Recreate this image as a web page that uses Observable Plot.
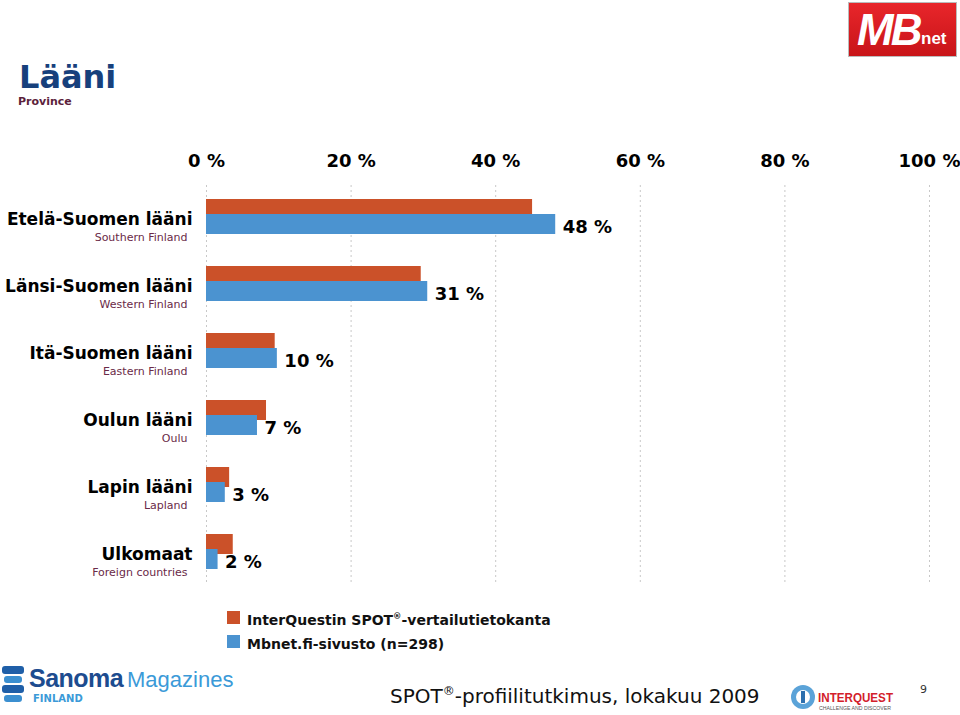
<!DOCTYPE html>
<html>
<head>
<meta charset="utf-8">
<script src="https://cdn.jsdelivr.net/npm/d3@7"></script>
<script src="https://cdn.jsdelivr.net/npm/@observablehq/plot@0.6"></script>
<style>
  body { margin: 0; background: #fff; font-family: "DejaVu Sans", Verdana, sans-serif; }
  #page { position: relative; width: 960px; height: 715px; overflow: hidden; }
  .abs { position: absolute; white-space: nowrap; }
  #title { left: 19px; top: 57px; font-size: 32px; font-weight: bold; color: #17407c; line-height: 40px; }
  #subtitle { left: 18px; top: 94px; font-size: 11px; font-weight: bold; color: #5c1f3c; line-height: 16px; }
  #chart { position: absolute; left: 0; top: 140px; }
  .sw { position: absolute; width: 13px; height: 13px; }
  .lg { font-size: 14px; font-weight: bold; color: #111; line-height: 18px; }
  sup { font-size: 0.6em; line-height: 0; }
  #footer { left: 390px; top: 683px; font-size: 20px; color: #111; line-height: 26px; }
  #pageno { left: 920px; top: 683px; font-size: 11px; color: #333; }
  #mb { left: 848px; top: 2px; width: 109px; height: 55px; background: linear-gradient(#e8262b, #c81418); border: 1px solid #bbb; box-sizing: border-box; }
  #mb .m { position: absolute; left: 8px; top: 2px; font-size: 44px; font-weight: bold; font-style: italic; color: #fff; letter-spacing: -3px; font-family: "Liberation Sans", Arial, sans-serif; }
  #mb .n { position: absolute; left: 72px; top: 26px; font-size: 17px; font-weight: bold; color: #fff; font-family: "Liberation Sans", Arial, sans-serif; }
  #sanoma { left: 0; top: 662px; width: 260px; height: 48px; }
  #interquest { left: 790px; top: 683px; width: 120px; height: 30px; }
</style>
</head>
<body>
<div id="page">
  <div class="abs" id="title">Lääni</div>
  <div class="abs" id="subtitle">Province</div>
  <div class="abs" id="mb"><span class="m">MB</span><span class="n">net</span></div>
  <div id="chart"></div>
  <div class="sw" style="left:227px;top:611px;background:#cb5129"></div>
  <div class="abs lg" style="left:247px;top:611px">InterQuestin SPOT<sup>®</sup>-vertailutietokanta</div>
  <div class="sw" style="left:227px;top:635px;background:#4b93d0"></div>
  <div class="abs lg" style="left:247px;top:635px">Mbnet.fi-sivusto (n=298)</div>
  <div class="abs" id="sanoma">
    <svg width="260" height="48">
      <rect x="2" y="4" width="22" height="8" rx="3" fill="#1f5fa8"/>
      <rect x="4" y="14" width="18" height="7" rx="3" fill="#3b8fd0"/>
      <rect x="2" y="23" width="22" height="8" rx="3" fill="#1f5fa8"/>
      <rect x="4" y="33" width="18" height="7" rx="3" fill="#3b8fd0"/>
      <text x="29" y="25" font-family="Liberation Sans, Arial" font-size="25" font-weight="bold" fill="#1d4c8f" letter-spacing="-0.5">Sanoma</text>
      <text x="127" y="25" font-family="Liberation Sans, Arial" font-size="22" fill="#3b9ad8">Magazines</text>
      <text x="33" y="40" font-family="DejaVu Sans" font-size="10" font-weight="bold" fill="#3b9ad8">FINLAND</text>
    </svg>
  </div>
  <div class="abs" id="interquest">
    <svg width="120" height="30">
      <circle cx="13" cy="14" r="12" fill="#5ba3d8"/>
      <circle cx="13" cy="14" r="7" fill="#fff"/>
      <rect x="11" y="8" width="4" height="12" fill="#2c6fae"/>
      <text x="28" y="19" font-family="Liberation Sans, Arial" font-size="13" font-weight="bold" fill="#d3202a" textLength="75" lengthAdjust="spacingAndGlyphs">INTERQUEST</text>
      <text x="29" y="27" font-family="Liberation Sans, Arial" font-size="5.5" fill="#555" textLength="72" lengthAdjust="spacingAndGlyphs">CHALLENGE AND DISCOVER</text>
    </svg>
  </div>
  <div class="abs" id="footer">SPOT<sup>®</sup>-profiilitutkimus, lokakuu 2009</div>
  <div class="abs" id="pageno">9</div>
</div>
<script>
const categories = ["Etelä-Suomen lääni", "Länsi-Suomen lääni", "Itä-Suomen lääni", "Oulun lääni", "Lapin lääni", "Ulkomaat"];
const subtitles = ["Southern Finland", "Western Finland", "Eastern Finland", "Oulu", "Lapland", "Foreign countries"];
const spotValues = [45.1, 29.7, 9.5, 8.3, 3.2, 3.7];
const mbnetValues = [48.3, 30.6, 9.8, 7.05, 2.6, 1.6];
const xTicks = [0, 20, 40, 60, 80, 100];

const orange = "#cb5129";
const blue = "#4b93d0";

const spot = categories.map((c, i) => ({cat: c, value: spotValues[i]}));
const mbnet = categories.map((c, i) => ({cat: c, value: mbnetValues[i]}));
const labels = categories.map((c, i) => ({cat: c, sub: subtitles[i]}));

const chart = Plot.plot({
  width: 960,
  height: 455,
  marginLeft: 206,
  marginRight: 31,
  marginTop: 45,
  marginBottom: 10,
  style: {fontFamily: "DejaVu Sans, Verdana, sans-serif", color: "#000", background: "transparent"},
  x: {domain: [0, 100], axis: null, label: null},
  y: {domain: categories, range: [59, 429], paddingInner: 32 / 67, paddingOuter: 0, align: 0, axis: null},
  marks: [
    Plot.ruleX(xTicks, {stroke: "#c8c8c8", strokeDasharray: "2,3", strokeWidth: 1}),
    Plot.axisX(xTicks, {anchor: "top", label: null, tickSize: 0, tickPadding: 19, tickFormat: d => d + " %", fontSize: 18, fontWeight: "bold", fill: "#000"}),
    Plot.barX(spot, {x: "value", y: "cat", fill: orange, insetBottom: 15}),
    Plot.barX(mbnet, {x: "value", y: "cat", fill: blue, insetTop: 15}),
    Plot.text(mbnet, {x: "value", y: "cat", text: d => Math.round(d.value) + " %", dx: 7, dy: 10.5, textAnchor: "start", fontSize: 18, fontWeight: "bold", fill: "#000"}),
    Plot.text(labels, {x: 0, y: "cat", text: "cat", dx: -14, dy: 3, textAnchor: "end", fontSize: 17, fontWeight: "bold", fill: "#000"}),
    Plot.text(labels, {x: 0, y: "cat", text: "sub", dx: -19, dy: 20, textAnchor: "end", fontSize: 11, fill: "#6a2a48"})
  ]
});
document.getElementById("chart").appendChild(chart);
</script>
</body>
</html>
